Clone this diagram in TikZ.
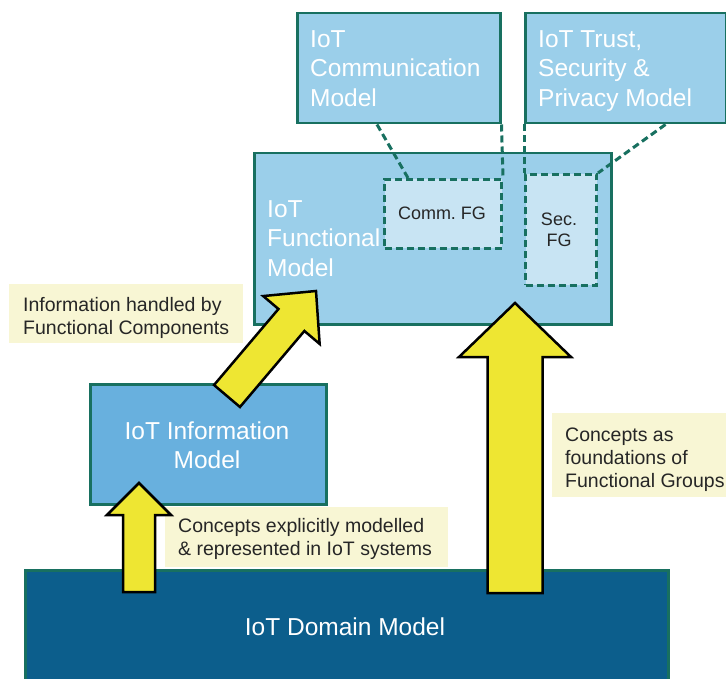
\documentclass[tikz,border=0pt]{standalone}
\usepackage{fontspec}
\setmainfont{Liberation Sans}
\usetikzlibrary{calc,positioning}
\frenchspacing
\definecolor{boxblue}{RGB}{155,207,234}
\definecolor{infoblue}{RGB}{104,176,222}
\definecolor{domainblue}{RGB}{12,94,140}
\definecolor{fgblue}{RGB}{200,228,243}
\definecolor{edgeteal}{RGB}{24,112,96}
\definecolor{lblyellow}{RGB}{248,246,212}
\definecolor{arrowyellow}{RGB}{238,230,50}
\tikzset{
	modelbox/.style={draw=edgeteal, line width=2.5pt, fill=boxblue, anchor=north west},
	fgbox/.style={draw=edgeteal, line width=3pt, fill=fgblue, dash pattern=on 7pt off 4pt, anchor=north west},
	fgline/.style={draw=edgeteal, line width=3pt, dash pattern=on 7pt off 4pt},
	lblbox/.style={fill=lblyellow, anchor=north west},
	titletext/.style={text=white, inner sep=0pt, font=\fontsize{24.5}{29.5}\selectfont},
	lbltext/.style={text=black!85, inner sep=0pt, align=left, anchor=north west, font=\fontsize{19.5}{23}\selectfont},
	fgtext/.style={text=black!85, inner sep=0pt, align=center, font=\fontsize{18}{21}\selectfont},
	arrowbody/.style={draw=black, line width=2.5pt, fill=arrowyellow, line join=miter}
}
% block arrow: [shaft half width][head half width][head length](tail)(tip)
\def\blockarrow[#1][#2][#3](#4)(#5){%
	\coordinate (ba-base) at ($(#5)!#3!(#4)$);
	\draw[arrowbody] ($(#4)!#1!90:(#5)$) -- ($(ba-base)!#1!90:(#5)$) -- ($(ba-base)!#2!90:(#5)$) -- (#5)
		-- ($(ba-base)!#2!-90:(#5)$) -- ($(ba-base)!#1!-90:(#5)$) -- ($(#4)!#1!-90:(#5)$) -- cycle;}
\begin{document}
\begin{tikzpicture}[x=1pt, y=-1pt]
	%%%%% START %%%%%
	\useasboundingbox[fill=white] (0,0) rectangle (726,679);
	
	% model boxes
	\node[modelbox, fill=domainblue, minimum width=643pt, minimum height=125pt] (domain) at (24,569) {};
	\node[modelbox, fill=infoblue, minimum width=236pt, minimum height=120pt] (info) at (89,383) {};
	\node[modelbox, minimum width=357pt, minimum height=171pt] (func) at (253,152) {};
	\node[modelbox, minimum width=203pt, minimum height=110pt] (comm) at (296,12) {};
	\node[modelbox, minimum width=201pt, minimum height=110pt] (trust) at (524,12) {};
	
	% functional groups
	\node[fgbox, minimum width=117pt, minimum height=69pt] (commfg) at (383,178) {};
	\node[fgbox, minimum width=71pt, minimum height=111pt] (secfg) at (524,173) {};
	\draw[fgline] ([xshift=81]comm.south west) -- ([xshift=25]commfg.north west);
	\draw[fgline] (comm.south east) -- (commfg.north east);
	\draw[fgline] (trust.south west) -- (secfg.north west);
	\draw[fgline] ([xshift=-62]trust.south east) -- (secfg.north east);
	
	% texts
	\node[titletext, align=left, anchor=north west] (commtxt) at (310,30) {IoT\\Communication\\Model};
	\node[titletext, align=left, anchor=north west] (trusttxt) at (538,30) {IoT Trust,\\Security \&\\Privacy Model};
	\node[titletext, align=left, anchor=north west] (functxt) at (267,200) {IoT\\Functional\\Model};
	\node[titletext, align=center] (infotxt) at (207,445) {IoT Information\\Model};
	\node[titletext] (domaintxt) at (345,627) {IoT Domain Model};
	\node[fgtext] (commfgtxt) at (442,213) {Comm. FG};
	\node[fgtext] (secfgtxt) at (559,230) {Sec.\\FG};
	
	% labels
	\node[lblbox, minimum width=234pt, minimum height=59pt] (infolbl) at (9,284) {};
	\node[lbltext] at (23,297) {Information handled by\\Functional Components};
	\node[lblbox, minimum width=283pt, minimum height=60pt] (concptlbl) at (165,507) {};
	\node[lbltext] at (178,518) {Concepts explicitly modelled\\\& represented in IoT systems};
	\node[lblbox, minimum width=180pt, minimum height=84pt] (foundlbl) at (552,413) {};
	\node[lbltext] at (565,428) {Concepts as\\foundations of\\Functional Groups};
	
	% arrows
	\coordinate (up-tail) at (139,592);
	\coordinate (up-tip) at (139,483);
	\coordinate (diag-tail) at (227,396);
	\coordinate (diag-tip) at (316,291);
	\coordinate (big-tail) at (515,593);
	\coordinate (big-tip) at (515,303);
	\blockarrow[16pt][32pt][32pt](up-tail)(up-tip)
	\blockarrow[17pt][37pt][38pt](diag-tail)(diag-tip)
	\blockarrow[27.5pt][56pt][54pt](big-tail)(big-tip)
	
	%%%%% END %%%%%
\end{tikzpicture}
\end{document}
